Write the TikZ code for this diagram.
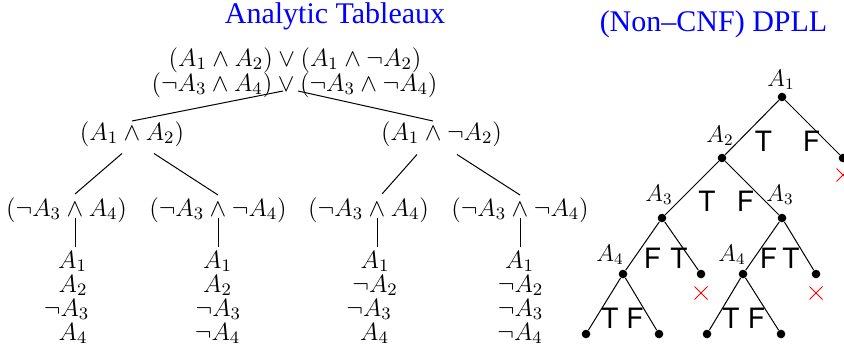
\RequirePackage{fix-cm}
\documentclass[tikz,border=0pt]{standalone}
\usepackage{fontspec}
\newfontfamily\titlefont[Ligatures=TeX]{Liberation Serif}
\newfontfamily\tffont{TeX Gyre Heros}
\usetikzlibrary{calc,shapes.misc}
\begin{document}
\begin{tikzpicture}[x=0.5pt,y=-0.5pt,
  mth/.style={inner sep=0pt, anchor=base, font=\fontsize{12.5}{15}\selectfont},
  var/.style={inner sep=0pt, anchor=base, font=\fontsize{12}{14}\selectfont},
  ttl/.style={inner sep=0pt, anchor=base, text=blue, font=\titlefont\fontsize{15}{18}\selectfont},
  tf/.style={inner sep=0pt, font=\tffont\fontsize{14}{16}\selectfont},
  dot/.style={circle, fill=black, inner sep=0pt, minimum size=4.3pt},
  edge/.style={draw=black, line width=0.5pt},
  bad/.style={cross out, draw=red, line width=0.5pt, inner sep=0pt, minimum size=6pt}
]
\useasboundingbox (0,0) rectangle (844,348);

% titles
\node[ttl] (t1) at (335,24) {Analytic Tableaux};
\node[ttl] (t2) at (713.5,32) {(Non–CNF) DPLL};

% ---------- Analytic tableaux ----------
\node[mth] (r1) at (295,66) {$(A_1\wedge A_2)\vee(A_1\wedge\neg A_2)$};
\node[mth] (r2) at (294.5,91) {$(\neg A_3\wedge A_4)\vee(\neg A_3\wedge\neg A_4)$};

\node[mth] (L) at (132,140) {$(A_1\wedge A_2)$};
\node[mth] (R) at (441.5,140) {$(A_1\wedge\neg A_2)$};

\node[mth] (LL) at (66.6,216) {$(\neg A_3\wedge A_4)$};
\node[mth] (LR) at (218,216) {$(\neg A_3\wedge\neg A_4)$};
\node[mth] (RL) at (368.6,216) {$(\neg A_3\wedge A_4)$};
\node[mth] (RR) at (520,216) {$(\neg A_3\wedge\neg A_4)$};

% leaves
\node[mth] (c1a) at (72.5,268) {$A_1$};
\node[mth] (c1b) at (73,292) {$A_2$};
\node[mth] (c1c) at (66.5,316) {$\neg A_3$};
\node[mth] (c1d) at (73,340) {$A_4$};

\node[mth] (c2a) at (217.5,268) {$A_1$};
\node[mth] (c2b) at (217.5,292) {$A_2$};
\node[mth] (c2c) at (218.3,316) {$\neg A_3$};
\node[mth] (c2d) at (217.5,340) {$\neg A_4$};

\node[mth] (c3a) at (375,268) {$A_1$};
\node[mth] (c3b) at (375,292) {$\neg A_2$};
\node[mth] (c3c) at (369,316) {$\neg A_3$};
\node[mth] (c3d) at (374.5,340) {$A_4$};

\node[mth] (c4a) at (519.5,268) {$A_1$};
\node[mth] (c4b) at (520.5,292) {$\neg A_2$};
\node[mth] (c4c) at (520.5,316) {$\neg A_3$};
\node[mth] (c4d) at (520,340) {$\neg A_4$};

% tableaux connectors
\draw[edge] ($(r2.base)+(-11.5,0)$) -- ($(L.base)+(0,-19)$);
\draw[edge] ($(r2.base)+(3.5,0)$) -- ($(R.base)+(-8.5,-19)$);
\draw[edge] ($(L.base)+(-10,13.5)$) -- ($(LL.base)+(8.4,-22)$);
\draw[edge] ($(L.base)+(22,13.5)$) -- ($(LR.base)+(0,-21)$);
\draw[edge] ($(R.base)+(-24.5,14.5)$) -- ($(RL.base)+(13.4,-22)$);
\draw[edge] ($(R.base)+(15.5,14.5)$) -- ($(RR.base)+(0,-21)$);
\draw[edge] ($(LL.base)+(8.4,2)$) -- ($(c1a.base)+(2.5,-21)$);
\draw[edge] ($(LR.base)+(0,2)$) -- ($(c2a.base)+(0.5,-21)$);
\draw[edge] ($(RL.base)+(8.4,2)$) -- ($(c3a.base)+(2,-21)$);
\draw[edge] ($(RR.base)+(0,2)$) -- ($(c4a.base)+(0.5,-21)$);

% ---------- DPLL ----------
\node[dot] (n1) at (782,97) {};
\node[dot] (n2) at (722,158) {};
\node[dot] (n3) at (843,158) {};
\node[dot] (n4) at (662,218) {};
\node[dot] (n5) at (782,218) {};
\node[dot] (n6) at (623,274) {};
\node[dot] (n7) at (701,274) {};
\node[dot] (n8) at (743,274) {};
\node[dot] (n9) at (816,274) {};
\node[dot] (b1) at (586,334) {};
\node[dot] (b2) at (659,334) {};
\node[dot] (b3) at (707,334) {};
\node[dot] (b4) at (781,334) {};

\draw[edge] (n1) -- (n2);
\draw[edge] (n1) -- (n3);
\draw[edge] (n2) -- (n4);
\draw[edge] (n2) -- (n5);
\draw[edge] (n4) -- (n6);
\draw[edge] (n4) -- (n7);
\draw[edge] (n5) -- (n8);
\draw[edge] (n5) -- (n9);
\draw[edge] (n6) -- (b1);
\draw[edge] (n6) -- (b2);
\draw[edge] (n8) -- (b3);
\draw[edge] (n8) -- (b4);

% variable labels
\node[var] (l1) at (781,86) {$A_1$};
\node[var] (l2) at (720,142) {$A_2$};
\node[var] (l4) at (659,201) {$A_3$};
\node[var] (l5) at (780,201) {$A_3$};
\node[var] (l6) at (610,261) {$A_4$};
\node[var] (l8) at (732,261) {$A_4$};

% T / F labels
\node[tf] (f1) at (763.5,141) {T};
\node[tf] (f2) at (811.5,141) {F};
\node[tf] (f3) at (707,201) {T};
\node[tf] (f4) at (745.5,201) {F};
\node[tf] (f5) at (652.5,258) {F};
\node[tf] (f6) at (679,258) {T};
\node[tf] (f7) at (768.5,258) {F};
\node[tf] (f8) at (791,258) {T};
\node[tf] (f9) at (610,318) {T};
\node[tf] (f10) at (635,318) {F};
\node[tf] (f11) at (731,318) {T};
\node[tf] (f12) at (756.5,318) {F};

% conflicts
\node[bad] (x1) at (843,175) {};
\node[bad] (x2) at (701,293) {};
\node[bad] (x3) at (816,293) {};
\end{tikzpicture}
\end{document}
